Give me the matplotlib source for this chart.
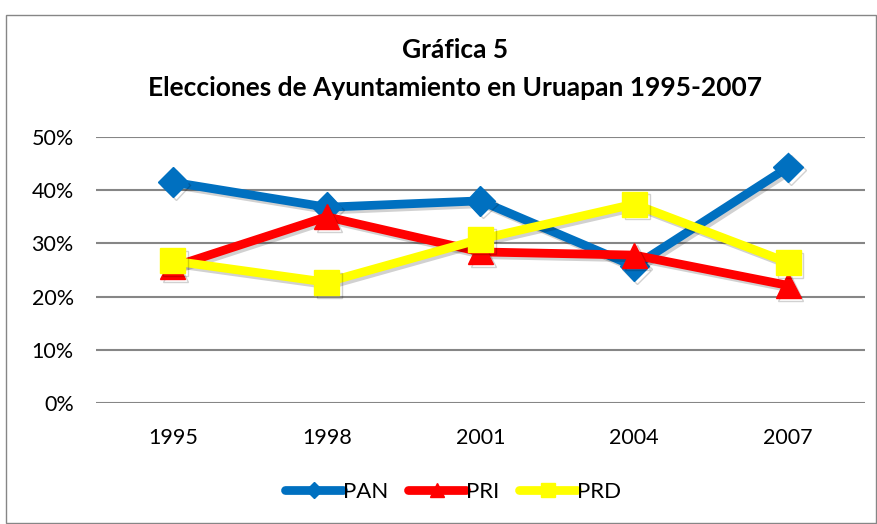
import matplotlib
matplotlib.use("Agg")
import matplotlib.pyplot as plt
import matplotlib.patheffects as pe
from matplotlib.patches import Rectangle

years = ["1995", "1998", "2001", "2004", "2007"]
pan = [41.5, 36.8, 38.0, 25.7, 44.3]
pri = [25.6, 35.0, 28.4, 27.8, 22.1]
prd = [26.7, 22.7, 30.8, 37.4, 26.4]
yticks = [0, 10, 20, 30, 40, 50]
ytick_labels = ["0%", "10%", "20%", "30%", "40%", "50%"]
title1 = "Gráfica 5"
title2 = "Elecciones de Ayuntamiento en Uruapan 1995-2007"

plt.rcParams['font.family'] = ['Lato', 'DejaVu Sans']

fig = plt.figure(figsize=(8.78, 5.24), dpi=100)
fig.patch.set_facecolor("white")
# outer chart border
fig.add_artist(Rectangle((6/878, 1/524), (876-6)/878, (509-1)/524, transform=fig.transFigure,
                         fill=False, edgecolor="#868686", linewidth=1.0))

ax = fig.add_axes([96/878, 1 - 403/524, (865-96)/878, (403-137)/524])
x = list(range(len(years)))

shadow = [pe.SimpleLineShadow(offset=(2, -2), shadow_color="black", alpha=0.18), pe.Normal()]

series = [
    ("PAN", pan, "#0070C0", "D", 15),
    ("PRI", pri, "#FF0000", "^", 18),
    ("PRD", prd, "#FFFF00", "s", 18),
]
for name, vals, col, mk, ms in series:
    ax.plot(x, vals, color=col, linewidth=6.3, marker=mk, markersize=ms,
            markeredgecolor=col, markerfacecolor=col, label=name,
            solid_capstyle="round", solid_joinstyle="miter",
            path_effects=shadow, zorder=3)

ax.set_xlim(-0.5, 4.5)
ax.set_ylim(0, 50)
ax.set_yticks(yticks)
ax.set_yticklabels(ytick_labels)
ax.set_xticks(x)
ax.set_xticklabels(years)
ax.yaxis.grid(True, color="#868686", linewidth=1.5)
ax.set_axisbelow(True)
for s in ax.spines.values():
    s.set_visible(False)
ax.tick_params(axis="both", length=0, labelsize=15.5, colors="black")
ax.tick_params(axis="y", pad=16)
ax.tick_params(axis="x", pad=18)

fig.text(455/878, 1 - 50/524, title1, ha="center", va="center", fontsize=19, fontweight="bold")
fig.text(455/878, 1 - 88/524, title2, ha="center", va="center", fontsize=19, fontweight="bold")

leg = fig.legend(loc="center", bbox_to_anchor=(453/878, 1 - 492/524), ncol=3, frameon=False,
                 fontsize=16, handlelength=2.6, handletextpad=0.0, columnspacing=0.9,
                 markerscale=0.55)
for h in leg.legend_handles:
    h.set_path_effects([])
    h.set_solid_capstyle("round")

fig.savefig("out.png", dpi=100, facecolor="white")
